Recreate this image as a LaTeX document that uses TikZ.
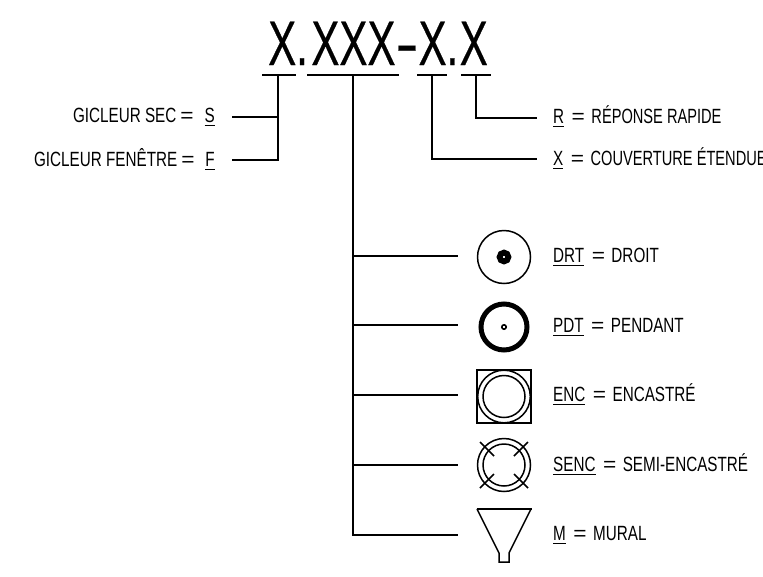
\documentclass[tikz,border=0pt]{standalone}
\usepackage{fontspec}
\setmainfont[FakeStretch=0.74]{Liberation Sans}
\newfontfamily\titlefont[FakeStretch=0.667,FakeBold=0.4]{Liberation Sans}
\newcommand{\ulx}[1]{\vtop{\hbox{#1}\kern2.6pt\hrule height 1pt}}
\newcommand{\eqs}{{\addfontfeature{FakeStretch=1.1}=}}
\newcommand{\eqgap}{\hspace{7.5pt}\eqs\hspace{6.5pt}}
\newcommand{\tighter}[1]{{\addfontfeature{FakeStretch=0.71}#1}}
\tikzset{
  lbl/.style={inner sep=0pt,font=\fontsize{20.6}{24}\selectfont},
  lblr/.style={lbl,anchor=base west},
  lbll/.style={lbl,anchor=base east},
  conn/.style={line width=1.2pt,black},
  sym/.style={line width=1.5pt,black},
  pt/.style={inner sep=0pt,minimum size=0pt}
}
\begin{document}
\begin{tikzpicture}[x=1pt,y=-1pt]
\useasboundingbox (0,0) rectangle (763,576);
\node[inner sep=0pt,anchor=base west,font=\fontsize{63}{70}\selectfont\titlefont] (title) at (268,65) {X.\kern3.5pt XXX{\addfontfeature{FakeStretch=1.1}-}X.\kern1.5pt X};
% bars under the title
\coordinate (b1a) at (262,75); \coordinate (b1b) at (296,75);
\coordinate (b2a) at (307,75); \coordinate (b2b) at (399,75);
\coordinate (b3a) at (417,75); \coordinate (b3b) at (447,75);
\coordinate (b4a) at (461,75); \coordinate (b4b) at (491,75);
\draw[conn] (b1a) -- (b1b);
\draw[conn] (b2a) -- (b2b);
\draw[conn] (b3a) -- (b3b);
\draw[conn] (b4a) -- (b4b);
\coordinate (s1) at (278,75); \coordinate (s2) at (353,75);
\coordinate (s3) at (432,75); \coordinate (s4) at (476,75);
% left labels
\node[lbll] (sec) at (215,122) {GICLEUR SEC\hspace{4pt}\eqs\hspace{11pt}\ulx{S}};
\node[lbll] (fen) at (215,166) {GICLEUR FENÊTRE\hspace{4pt}\eqs\hspace{11pt}\ulx{F}};
\coordinate (secE) at (232,117); \coordinate (secJ) at (278,117);
\coordinate (fenE) at (232,160); \coordinate (fenJ) at (278,160);
\draw[conn] (secE) -- (secJ);
\draw[conn] (s1) -- (fenJ) -- (fenE);
% right labels
\node[lblr] (rep) at (553,123) {\ulx{R}\eqgap\tighter{RÉPONSE RAPIDE}};
\node[lblr] (cou) at (553,165) {\ulx{X}\eqgap\tighter{COUVERTURE ÉTENDUE}};
\coordinate (repW) at (537,118); \coordinate (couW) at (537,159);
\draw[conn] (s4) |- (repW);
\draw[conn] (s3) |- (couW);
% symbols
\node[pt] (drt) at (504,257) {};
\node[pt] (pdt) at (504,327) {};
\node[pt] (enc) at (504,396.5) {};
\node[pt] (senc) at (504,465) {};
\node[pt] (mur) at (504,535) {};
% trunk and branches
\coordinate (t1) at (458,256); \coordinate (t2) at (458,325);
\coordinate (t3) at (458,395); \coordinate (t4) at (458,465);
\coordinate (t5) at (458,535);
\draw[conn] (s2) |- (t5);
\draw[conn] (353,256) -- (t1);
\draw[conn] (353,325) -- (t2);
\draw[conn] (353,395) -- (t3);
\draw[conn] (353,465) -- (t4);
% DRT
\draw[sym] (drt) circle (26.5);
\draw[line width=5.8pt] (drt) circle (4.4);
% PDT
\draw[line width=5pt] (pdt) circle (23);
\draw[line width=1.6pt] (pdt) circle (2.2);
% ENC
\draw[sym] (477,370) rectangle (531,423);
\draw[sym] (enc) circle (26.3);
\draw[sym] (enc) circle (21);
% SENC
\draw[sym] (senc) circle (26.5);
\draw[sym] (senc) circle (21);
\draw[sym] (480,442) -- (494,456);
\draw[sym] (528,442) -- (514,456);
\draw[sym] (480,488) -- (494,474);
\draw[sym] (528,488) -- (514,474);
% MURAL
\draw[sym,line join=miter] (477,509) -- (499,553) -- (499,562) -- (509,562) -- (509,553) -- (531,509);
\draw[line width=1.8pt] (476.5,509) -- (531.5,509);
% symbol labels
\node[lblr] (ldrt) at (553,262) {\ulx{DRT}\eqgap DROIT};
\node[lblr] (lpdt) at (553,332) {\ulx{PDT}\eqgap PENDANT};
\node[lblr] (lenc) at (553,401) {\ulx{ENC}\eqgap ENCASTRÉ};
\node[lblr] (lsenc) at (553,471) {\ulx{SENC}\eqgap SEMI-ENCASTRÉ};
\node[lblr] (lm) at (553,540) {\ulx{M}\eqgap MURAL};
\end{tikzpicture}
\end{document}
